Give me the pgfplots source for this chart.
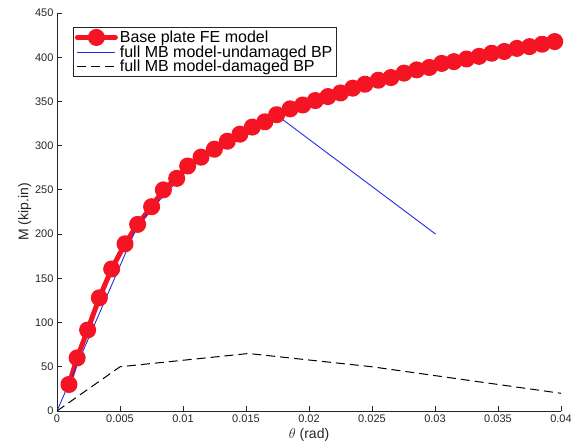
\documentclass[border=0pt]{standalone}
\usepackage{pgfplots}
\pgfplotsset{compat=1.18}
\usepackage{fontspec}
\setmainfont{Liberation Sans}
\definecolor{fered}{RGB}{245,20,35}
\definecolor{mbblue}{RGB}{35,45,225}
\definecolor{axgray}{RGB}{38,38,38}
\begin{document}
\begin{tikzpicture}
\begin{axis}[
  name=ax,
  anchor=south west, at={(0pt,0pt)},
  scale only axis,
  width=504pt, height=398pt,
  xmin=0, xmax=0.04, ymin=0, ymax=450,
  axis lines=left,
  axis line style={-, axgray, line width=0.8pt},
  tick align=inside,
  major tick length=5pt,
  tick style={axgray, line width=0.8pt},
  xtick={0,0.005,...,0.04},
  ytick={0,50,...,450},
  scaled x ticks=false,
  xticklabel style={/pgf/number format/fixed, /pgf/number format/precision=3},
  /pgf/number format/assume math mode=true,
  ticklabel style={font=\fontsize{11}{12}\selectfont, text=axgray},
  xlabel={$\theta$ (rad)},
  ylabel={M (kip.in)},
  label style={font=\fontsize{14}{15}\selectfont, text=axgray},
  xlabel style={yshift=1pt},
  ylabel style={yshift=-3pt},
  legend cell align=left,
  legend style={at={(16pt,384pt)}, anchor=north west, draw=axgray, line width=0.8pt,
    font=\fontsize{16}{16}\selectfont, row sep=-2.5pt, inner sep=1.5pt,
    /tikz/every even column/.append style={column sep=2pt}},
  legend image code/.code={\draw[mark repeat=2,mark phase=2] plot coordinates {(0pt,0pt)(19pt,0pt)(38pt,0pt)};},
]
\addplot[fered, line width=5pt, line join=round, line cap=round, mark=*, mark size=6pt, mark options={solid, fill=fered, draw=none}] coordinates {
(0.00095,30) (0.0016,60) (0.00243,91.6) (0.00336,128) (0.00434,160.6)
(0.0054,189) (0.0064,211) (0.00751,231) (0.00844,250) (0.0095,263)
(0.01037,277) (0.01143,287) (0.01249,296) (0.01352,305) (0.01452,313)
(0.0155,321) (0.0165,327) (0.01743,335) (0.0185,341.6) (0.0195,346)
(0.0205,351) (0.0215,355.5) (0.0225,359.6) (0.02347,365) (0.02444,369.5)
(0.0255,374) (0.0265,377) (0.02754,382) (0.02855,385.7) (0.02955,388.4)
(0.03053,393) (0.0315,395) (0.0325,398) (0.0335,401) (0.0345,404.5)
(0.0355,406.5) (0.0365,410) (0.0375,412) (0.0385,414.7) (0.0395,417.7)
};
\addlegendentry{Base plate FE model}
\addplot[mbblue, line width=0.9pt, no marks] coordinates {
(0,0) (0.00646,212) (0.01056,276) (0.01749,334) (0.03005,200)
};
\addlegendentry{full MB model-undamaged BP}
\addplot[black, line width=1pt, no marks, dash pattern=on 9pt off 5pt] coordinates {
(0,0) (0.005,50) (0.0152,65) (0.025,50) (0.04,20)
};
\addlegendentry{full MB model-damaged BP}
\end{axis}
\pgfresetboundingbox
\path[use as bounding box] (-57pt,-32pt) rectangle (514pt,411pt);
\end{tikzpicture}
\end{document}
